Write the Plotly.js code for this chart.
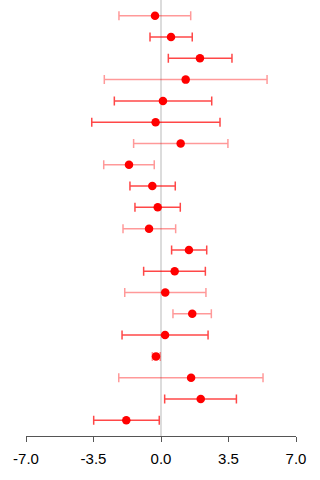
<!DOCTYPE html>
<html>
<head>
<meta charset="utf-8">
<script src="https://cdn.plot.ly/plotly-3.0.1.min.js"></script>
<style>
  html, body { margin: 0; padding: 0; background: #fff; }
  #chart { width: 320px; height: 480px; }
</style>
</head>
<body>
<div id="chart"></div>
<script>
// Forest plot: point estimates with lower/upper interval bounds, top row first
const estimate = [-0.31, 0.52, 2.02, 1.28, 0.10, -0.28, 1.02, -1.66, -0.45, -0.17,
                  -0.62, 1.45, 0.71, 0.22, 1.62, 0.21, -0.26, 1.56, 2.06, -1.80];
const lower    = [-2.18, -0.57, 0.38, -2.94, -2.42, -3.59, -1.42, -2.97, -1.61, -1.35,
                  -1.97, 0.55, -0.90, -1.88, 0.62, -2.02, -0.45, -2.19, 0.19, -3.49];
const upper    = [1.54, 1.62, 3.68, 5.50, 2.63, 3.06, 3.47, -0.35, 0.74, 1.00,
                  0.76, 2.37, 2.30, 2.33, 2.61, 2.44, -0.04, 5.29, 3.91, -0.09];
// interval line opacity per row
const shade    = [0.4, 0.72, 0.72, 0.4, 0.72, 0.72, 0.4, 0.4, 0.72, 0.72,
                  0.4, 0.72, 0.72, 0.4, 0.4, 0.72, 0.4, 0.4, 0.72, 0.72];
const tickVals  = [-7, -3.5, 0, 3.5, 7];
const tickTexts = ['-7.0', '-3.5', '0.0', '3.5', '7.0'];

const n = estimate.length;
const traces = [];
for (let i = 0; i < n; i++) {
  traces.push({
    type: 'scatter',
    mode: 'markers',
    x: [estimate[i]],
    y: [n - i],
    marker: { color: '#ff0000', size: 8.5 },
    error_x: {
      type: 'data',
      symmetric: false,
      array: [upper[i] - estimate[i]],
      arrayminus: [estimate[i] - lower[i]],
      color: 'rgba(255,0,0,' + shade[i] + ')',
      thickness: 1.5,
      width: 4.5
    },
    hoverinfo: 'skip',
    showlegend: false
  });
}

const layout = {
  width: 320,
  height: 480,
  margin: { l: 26, r: 24, t: 0, b: 44 },
  paper_bgcolor: '#ffffff',
  plot_bgcolor: '#ffffff',
  font: { family: 'Liberation Sans, Arial, sans-serif', size: 15, color: '#000' },
  xaxis: {
    range: [-7, 7],
    tickvals: tickVals,
    ticktext: tickTexts,
    showgrid: false,
    zeroline: false,
    showline: true,
    linecolor: '#555',
    linewidth: 1,
    ticks: 'outside',
    ticklen: 5,
    tickcolor: '#555',
    ticklabelstandoff: 4,
    tickfont: { size: 15, color: '#000' },
    fixedrange: true
  },
  yaxis: {
    range: [0.26, n + 0.74],
    visible: false,
    fixedrange: true
  },
  shapes: [{
    type: 'line', layer: 'below',
    xref: 'x', yref: 'paper',
    x0: 0, x1: 0, y0: 0, y1: 1,
    line: { color: '#dcdcdc', width: 2 }
  }]
};

Plotly.newPlot('chart', traces, layout, { displayModeBar: false, staticPlot: true });
</script>
</body>
</html>
